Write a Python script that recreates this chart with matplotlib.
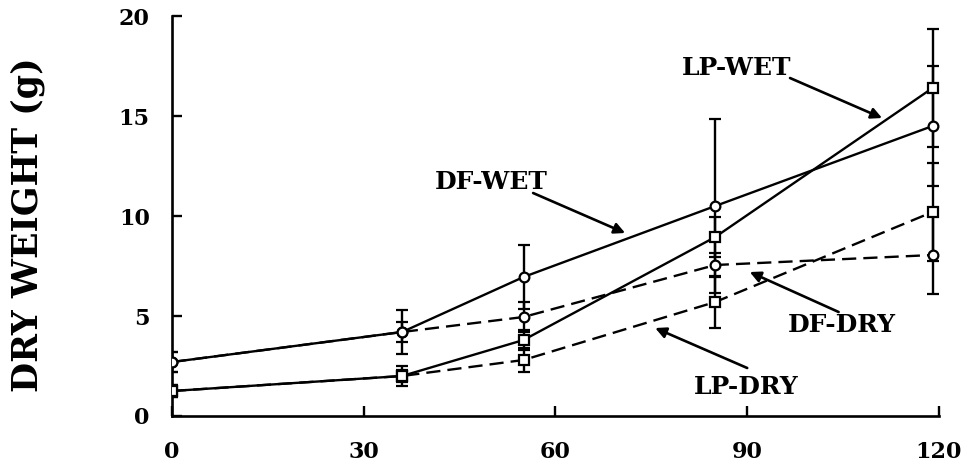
import matplotlib
matplotlib.use("Agg")
import matplotlib.pyplot as plt

# Sampling days
days = [0, 36, 55, 85, 119]

# Mean dry weight (g) and error for each treatment
df_wet = [2.7, 4.2, 6.95, 10.5, 14.5]
df_wet_err = [0.5, 1.1, 1.6, 4.35, 3.0]

df_dry = [2.7, 4.2, 4.95, 7.55, 8.05]
df_dry_err = [0.5, 0.5, 0.75, 0.6, 1.95]

lp_wet = [1.25, 2.0, 3.8, 8.95, 16.4]
lp_wet_err = [0.3, 0.5, 0.5, 1.0, 2.95]

lp_dry = [1.25, 2.0, 2.8, 5.7, 10.2]
lp_dry_err = [0.3, 0.3, 0.6, 1.3, 2.45]

x_ticks = [0, 30, 60, 90, 120]
y_ticks = [0, 5, 10, 15, 20]

FONT = "DejaVu Serif"

fig = plt.figure(figsize=(9.73, 4.70), dpi=100)
ax = fig.add_axes([0.1768, 0.1149, 0.7882, 0.851])

common = dict(color="black", ecolor="black", elinewidth=1.7, capsize=4.5,
              capthick=1.7, markersize=7, markerfacecolor="white",
              markeredgecolor="black", markeredgewidth=1.6, lw=1.7)

ax.errorbar(days, df_wet, yerr=df_wet_err, fmt="o-", zorder=3, **common)
ax.errorbar(days, lp_wet, yerr=lp_wet_err, fmt="s-", zorder=3, **common)
ax.errorbar(days, df_dry, yerr=df_dry_err, fmt="o--", dashes=(6, 3), zorder=3, **common)
ax.errorbar(days, lp_dry, yerr=lp_dry_err, fmt="s--", dashes=(6, 3), zorder=3, **common)

ax.set_xlim(0, 120)
ax.set_ylim(0, 20)
ax.set_xticks(x_ticks)
ax.set_yticks(y_ticks)
ax.set_xticklabels([str(v) for v in x_ticks], fontfamily=FONT, fontweight="bold", fontsize=16)
ax.set_yticklabels([str(v) for v in y_ticks], fontfamily=FONT, fontweight="bold", fontsize=16)
ax.tick_params(direction="in", length=7, width=1.7)
ax.tick_params(axis="x", pad=18)
ax.tick_params(axis="y", pad=16)

for side in ("top", "right"):
    ax.spines[side].set_visible(False)
for side in ("left", "bottom"):
    ax.spines[side].set_linewidth(1.9)

ax.set_ylabel("DRY WEIGHT (g)", fontfamily=FONT, fontweight="bold", fontsize=25)
ax.yaxis.set_label_coords(-0.166, 0.4775)

arrow = dict(arrowstyle="-|>", color="black", lw=1.9, mutation_scale=16, shrinkA=0, shrinkB=0)
label_font = dict(fontfamily=FONT, fontweight="bold", fontsize=18, ha="center", va="center")

ax.text(49.9, 11.7, "DF-WET", **label_font)
ax.annotate("", xy=(70.9, 9.15), xytext=(56.5, 11.15), arrowprops=arrow)

ax.text(88.4, 17.4, "LP-WET", **label_font)
ax.annotate("", xy=(111.1, 14.9), xytext=(96.7, 16.9), arrowprops=arrow)

ax.text(104.8, 4.55, "DF-DRY", **label_font)
ax.annotate("", xy=(90.4, 7.2), xytext=(104.3, 5.2), arrowprops=arrow)

ax.text(89.8, 1.45, "LP-DRY", **label_font)
ax.annotate("", xy=(75.6, 4.4), xytext=(90.0, 2.4), arrowprops=arrow)

fig.savefig("out.png", dpi=100, facecolor="white")
